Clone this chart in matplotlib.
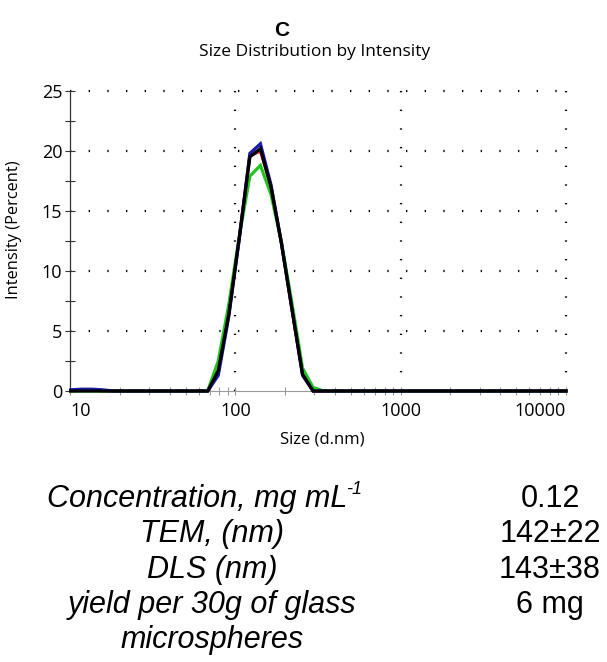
import matplotlib as mpl
import matplotlib.pyplot as plt
from matplotlib.ticker import FixedLocator, NullFormatter

# particle size bins (d.nm) and intensity (%) for four repeat runs
sizes = [10.1, 11.7, 13.54, 15.69, 18.17, 21.04, 24.36, 28.21, 32.67, 37.84,
         43.82, 50.75, 58.77, 68.06, 78.82, 91.28, 105.7, 122.4, 141.8, 164.2,
         190.1, 220.2, 255.0, 295.3, 342.0, 396.1, 458.7, 531.2, 615.1, 712.4,
         825.0, 955.4, 1106, 1281, 1484, 1718, 1990, 2305, 2669, 3091,
         3580, 4145, 4801, 5560, 6439, 7456, 8635, 10000]

run_red = [0, 0.1, 0.1, 0, 0, 0, 0, 0, 0, 0,
           0, 0, 0, 0, 1.6, 6.4, 12.8, 19.6, 20.0, 17.1,
           12.3, 6.8, 1.4, 0, 0, 0, 0, 0, 0, 0,
           0, 0, 0, 0, 0, 0, 0, 0, 0, 0,
           0, 0, 0, 0, 0, 0, 0, 0]
run_green = [0, 0, 0, 0, 0, 0, 0, 0, 0, 0,
             0, 0, 0, 0, 2.5, 7.2, 12.9, 17.9, 18.8, 16.4,
             12.4, 7.3, 1.9, 0.3, 0, 0, 0, 0, 0, 0,
             0, 0, 0, 0, 0, 0, 0, 0, 0, 0,
             0, 0, 0, 0, 0, 0, 0, 0]
run_blue = [0.1, 0.15, 0.15, 0.1, 0, 0, 0, 0, 0, 0,
            0, 0, 0, 0, 1.3, 6.2, 12.7, 19.8, 20.6, 17.2,
            12.3, 6.8, 1.3, 0, 0, 0, 0, 0, 0, 0,
            0, 0, 0, 0, 0, 0, 0, 0, 0, 0,
            0, 0, 0, 0, 0, 0, 0, 0]
run_black = [0, 0, 0, 0, 0, 0, 0, 0, 0, 0,
             0, 0, 0, 0, 1.7, 6.4, 12.8, 19.5, 20.2, 17.0,
             12.3, 6.8, 1.4, 0, 0, 0, 0, 0, 0, 0,
             0, 0, 0, 0, 0, 0, 0, 0, 0, 0,
             0, 0, 0, 0, 0, 0, 0, 0]

x_major = [10, 100, 1000, 10000]
y_major = [0, 5, 10, 15, 20, 25]

table_labels = ["Concentration, mg mL", "TEM, (nm)", "DLS (nm)",
                "yield per 30g of glass", "microspheres"]
table_values = ["0.12", "142\u00b122", "143\u00b138", "6 mg", ""]

axis_font = "Open Sans"
table_font = "Liberation Sans"

fig = plt.figure(figsize=(6.07, 6.62), dpi=100)
ax = fig.add_axes([70 / 607, 1 - 391 / 662, 496 / 607, 300 / 662])

runs = [(run_red, "#e02020"), (run_green, "#22c422"), (run_blue, "#1a1aa8"), (run_black, "black")]
for vals, col in runs:
    ax.plot(sizes, vals, color=col, lw=2.3, solid_joinstyle="miter", clip_on=False, zorder=3)

ax.set_xscale("log")
ax.set_xlim(10, 10000)
ax.set_ylim(0, 25)

ax.set_xticks(x_major)
ax.set_xticklabels([str(v) for v in x_major])
minor = [m * d for d in (10, 100, 1000) for m in range(2, 10)]
ax.xaxis.set_minor_locator(FixedLocator(minor))
ax.xaxis.set_minor_formatter(NullFormatter())
ax.set_yticks(y_major)
ax.set_yticks([2.5, 7.5, 12.5, 17.5, 22.5], minor=True)

for sp in ("top", "right"):
    ax.spines[sp].set_visible(False)
ax.spines["bottom"].set_color("#9a9a9a")
ax.spines["left"].set_color("#333333")
ax.spines["left"].set_linewidth(0.9)

ax.tick_params(axis="y", which="both", direction="inout", length=7, width=0.8, color="#333333",
               labelsize=13, pad=2)
ax.tick_params(axis="x", which="both", direction="inout", length=6, width=0.8, color="#9a9a9a",
               labelsize=13, pad=5)
for lab in ax.get_xticklabels() + ax.get_yticklabels():
    lab.set_fontfamily(axis_font)
xl = ax.get_xticklabels()
xl[0].set_ha("left")
xl[-1].set_ha("right")

# dotted grid
for yv in y_major[1:]:
    ax.axhline(yv, color="black", lw=1.6, ls=(0, (0.6, 7.8)), zorder=1, clip_on=False)
for xv in x_major[1:]:
    ax.axvline(xv, color="black", lw=1.6, ls=(0, (0.6, 7.8)), zorder=1, clip_on=False)

ax.set_xlabel("Size (d.nm)", fontsize=12, fontfamily=axis_font)
ax.xaxis.set_label_coords((322 - 70) / 496, (391 - 431) / 300)
ax.set_ylabel("Intensity (Percent)", fontsize=11.8, fontfamily=axis_font)
ax.yaxis.set_label_coords((22 - 70) / 496, (391 - 230) / 300)

fig.text(282 / 607, 1 - 31 / 662, "C", ha="center", va="center", fontsize=15,
         fontweight="bold", fontfamily=table_font)
fig.text(315 / 607, 1 - 52 / 662, "Size Distribution by Intensity", ha="center", va="center",
         fontsize=12.5, fontfamily=axis_font)

baselines = [507, 542, 578, 613, 648]
for lab, val, yb in zip(table_labels, table_values, baselines):
    xc = 197 if lab.startswith("Conc") else 212
    t = fig.text(xc / 607, 1 - yb / 662, lab, ha="center", va="baseline", fontsize=22,
                 style="italic", fontfamily=table_font)
    if lab.startswith("Conc"):
        ax.annotate("-1", xy=(1, 1), xycoords=t, xytext=(-1, 2), textcoords="offset points",
                    ha="left", va="top", fontsize=13, style="italic", fontfamily=table_font,
                    annotation_clip=False)
    if val:
        fig.text(550 / 607, 1 - yb / 662, val, ha="center", va="baseline", fontsize=22,
                 fontfamily=table_font)

fig.savefig("out.png", dpi=100)
